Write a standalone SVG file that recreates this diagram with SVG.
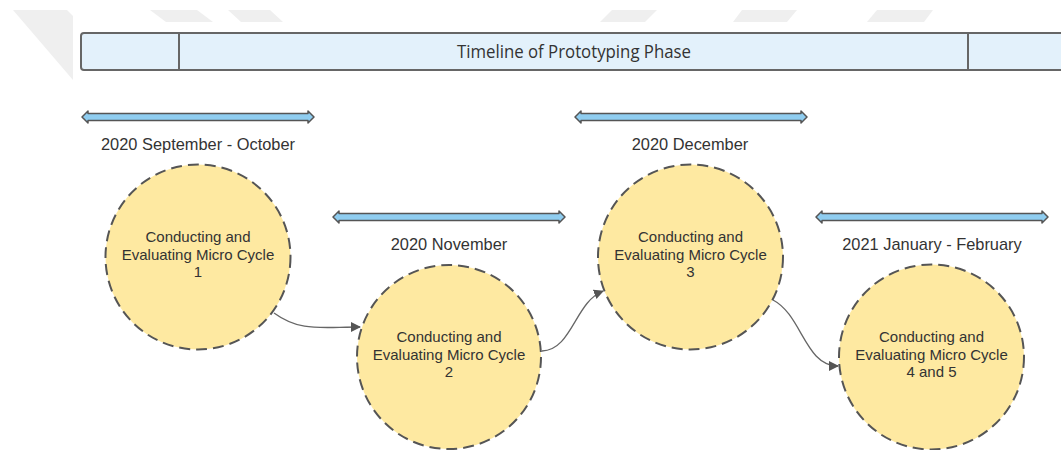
<svg xmlns="http://www.w3.org/2000/svg" width="1061" height="450" viewBox="0 0 1061 450">
  <style>
    .mark { fill: #efefef; }
    .band { fill: #e3f1fb; stroke: #666; stroke-width: 2; }
    .divider { stroke: #666; stroke-width: 2; }
    .title { font-family: "Open Sans", "DejaVu Sans", sans-serif; font-weight: 400; font-size: 18px; fill: #333; }
    .span { fill: #8fcdf0; stroke: #555; stroke-width: 1.5; stroke-linejoin: round; }
    .period { font-family: "Liberation Sans", Arial, sans-serif; font-size: 16.4px; fill: #333; text-anchor: middle; }
    .cycle { fill: #fee9a1; stroke: #555; stroke-width: 2; stroke-dasharray: 11 6; }
    .label { font-family: "Liberation Sans", Arial, sans-serif; font-size: 15px; fill: #333; text-anchor: middle; }
    .link { fill: none; stroke: #666; stroke-width: 1.3; }
  </style>
  <defs>
    <!-- double-headed period span, 232 px long, centred on y=0 -->
    <path id="span" d="M0,0 L6,-6 L6,-3.5 L226,-3.5 L226,-6 L232,0 L226,6 L226,3.5 L6,3.5 L6,6 Z"/>
    <marker id="arrow" viewBox="0 0 10 10" refX="9" refY="5" markerWidth="10" markerHeight="10" markerUnits="userSpaceOnUse" orient="auto">
      <path d="M0,0 L10,5 L0,10 Z" fill="#555"/>
    </marker>
  </defs>

  <rect width="1061" height="450" fill="#fff"/>

  <!-- faint background marks -->
  <g id="marks">
    <polygon class="mark" points="13,10 67,10 73,16 73,80"/>
    <polygon class="mark" points="150,10 197,10 213,22 166,22"/>
    <polygon class="mark" points="228,10 270,10 283,22 241,22"/>
    <polygon class="mark" points="612,10 657,10 645,22 600,22"/>
    <polygon class="mark" points="742,10 797,10 787,22 733,22"/>
    <polygon class="mark" points="877,10 933,10 924,22 867,22"/>
  </g>

  <!-- header band -->
  <g id="header">
    <rect class="band" x="81" y="33" width="1000" height="37" rx="3"/>
    <line class="divider" x1="179" y1="33" x2="179" y2="70"/>
    <line class="divider" x1="968" y1="33" x2="968" y2="70"/>
    <text class="title" x="574" y="58" text-anchor="middle" textLength="234" lengthAdjust="spacingAndGlyphs">Timeline of Prototyping Phase</text>
  </g>

  <!-- period spans -->
  <g id="period-sep-oct">
    <use href="#span" class="span" x="82" y="117"/>
    <text class="period" x="198" y="150">2020 September - October</text>
  </g>
  <g id="period-nov">
    <use href="#span" class="span" x="333" y="217"/>
    <text class="period" x="449" y="250">2020 November</text>
  </g>
  <g id="period-dec">
    <use href="#span" class="span" x="575" y="117"/>
    <text class="period" x="690" y="150">2020 December</text>
  </g>
  <g id="period-jan-feb">
    <use href="#span" class="span" x="816" y="217"/>
    <text class="period" x="932" y="250">2021 January - February</text>
  </g>

  <!-- connectors -->
  <g id="connectors">
    <path class="link" marker-end="url(#arrow)" d="M274,313 C300,332 320,327 360,327"/>
    <path class="link" marker-end="url(#arrow)" d="M542,351 C572,350 575,302 603,291"/>
    <path class="link" marker-end="url(#arrow)" d="M773,300 C802,315 805,366 838,366"/>
  </g>

  <!-- micro cycles -->
  <g id="cycle-1">
    <circle class="cycle" cx="198" cy="257" r="92.5"/>
    <text class="label" x="198" y="242">Conducting and</text>
    <text class="label" x="198" y="260">Evaluating Micro Cycle</text>
    <text class="label" x="198" y="277">1</text>
  </g>
  <g id="cycle-2">
    <circle class="cycle" cx="449" cy="357" r="92"/>
    <text class="label" x="449" y="342">Conducting and</text>
    <text class="label" x="449" y="360">Evaluating Micro Cycle</text>
    <text class="label" x="449" y="377">2</text>
  </g>
  <g id="cycle-3">
    <circle class="cycle" cx="690.5" cy="257" r="92.5"/>
    <text class="label" x="690.5" y="242">Conducting and</text>
    <text class="label" x="690.5" y="260">Evaluating Micro Cycle</text>
    <text class="label" x="690.5" y="277">3</text>
  </g>
  <g id="cycle-4-5">
    <circle class="cycle" cx="931.5" cy="357" r="92.5"/>
    <text class="label" x="931.5" y="342">Conducting and</text>
    <text class="label" x="931.5" y="360">Evaluating Micro Cycle</text>
    <text class="label" x="931.5" y="377">4 and 5</text>
  </g>
</svg>
